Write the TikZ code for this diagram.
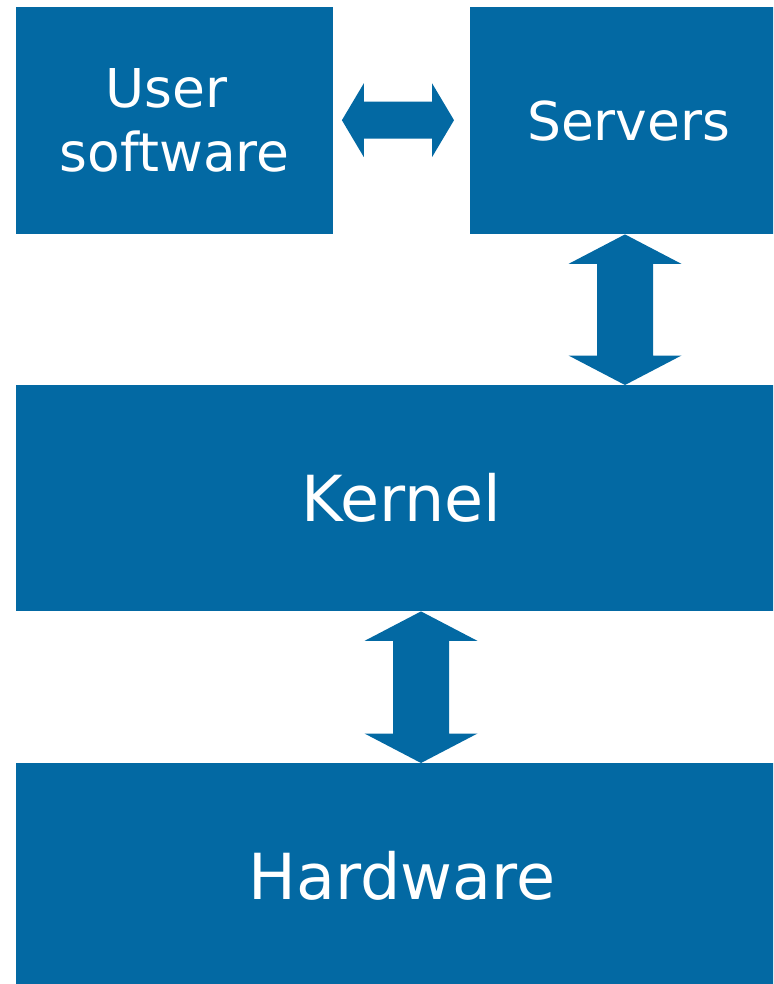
\documentclass[tikz,border=0pt]{standalone}
\usepackage{fontspec}
\setmainfont{DejaVu Sans}
\usetikzlibrary{calc}
\definecolor{layerblue}{RGB}{3,105,163}
\tikzset{
  layer/.style={fill=layerblue, draw=none, inner sep=0pt, anchor=north west,
                text=white, align=center},
  smalltext/.style={font=\fontsize{53.5}{64}\selectfont},
  bigtext/.style={font=\fontsize{63.5}{74}\selectfont},
  fatarrow/.style={fill=layerblue, draw=none},
}
\begin{document}
\begin{tikzpicture}[x=1pt, y=-1pt]
  \useasboundingbox (0,0) rectangle (773,984);
  \clip (0,0) rectangle (773,984);

  % layers of the system
  \node[layer, smalltext, minimum width=317, minimum height=227] (user) at (16,7)
    {User\hspace*{0.32em}\\software};
  \node[layer, smalltext, minimum width=317, minimum height=227] (servers) at (470,7)
    {Servers};
  \node[layer, bigtext, minimum width=771, minimum height=226] (kernel) at (16,385)
    {Kernel};
  \node[layer, bigtext, minimum width=771, minimum height=226] (hardware) at (16,763)
    {Hardware};

  % axes for the vertical arrows
  \coordinate (ax1) at (625,0);
  \coordinate (ax2) at (421,0);

  % user software <-> servers
  \coordinate (hl) at ($(user.east)+(8.5,-0.5)$);
  \coordinate (hr) at ($(servers.west)+(-16,-0.5)$);
  \fill[fatarrow] (hl) -- ($(hl)+(22,-37)$) -- ($(hl)+(22,-18.5)$)
    -- ($(hr)+(-22,-18.5)$) -- ($(hr)+(-22,-37)$) -- (hr)
    -- ($(hr)+(-22,37)$) -- ($(hr)+(-22,18.5)$)
    -- ($(hl)+(22,18.5)$) -- ($(hl)+(22,37)$) -- cycle;

  % servers <-> kernel
  \coordinate (t1) at (servers.south -| ax1);
  \coordinate (b1) at (kernel.north -| ax1);
  \fill[fatarrow] (t1) -- ($(t1)+(56.5,29.5)$) -- ($(t1)+(28,29.5)$)
    -- ($(b1)+(28,-29.5)$) -- ($(b1)+(56.5,-29.5)$) -- (b1)
    -- ($(b1)+(-56.5,-29.5)$) -- ($(b1)+(-28,-29.5)$)
    -- ($(t1)+(-28,29.5)$) -- ($(t1)+(-56.5,29.5)$) -- cycle;

  % kernel <-> hardware
  \coordinate (t2) at (kernel.south -| ax2);
  \coordinate (b2) at (hardware.north -| ax2);
  \fill[fatarrow] (t2) -- ($(t2)+(56.5,29.5)$) -- ($(t2)+(28,29.5)$)
    -- ($(b2)+(28,-29.5)$) -- ($(b2)+(56.5,-29.5)$) -- (b2)
    -- ($(b2)+(-56.5,-29.5)$) -- ($(b2)+(-28,-29.5)$)
    -- ($(t2)+(-28,29.5)$) -- ($(t2)+(-56.5,29.5)$) -- cycle;
\end{tikzpicture}
\end{document}
